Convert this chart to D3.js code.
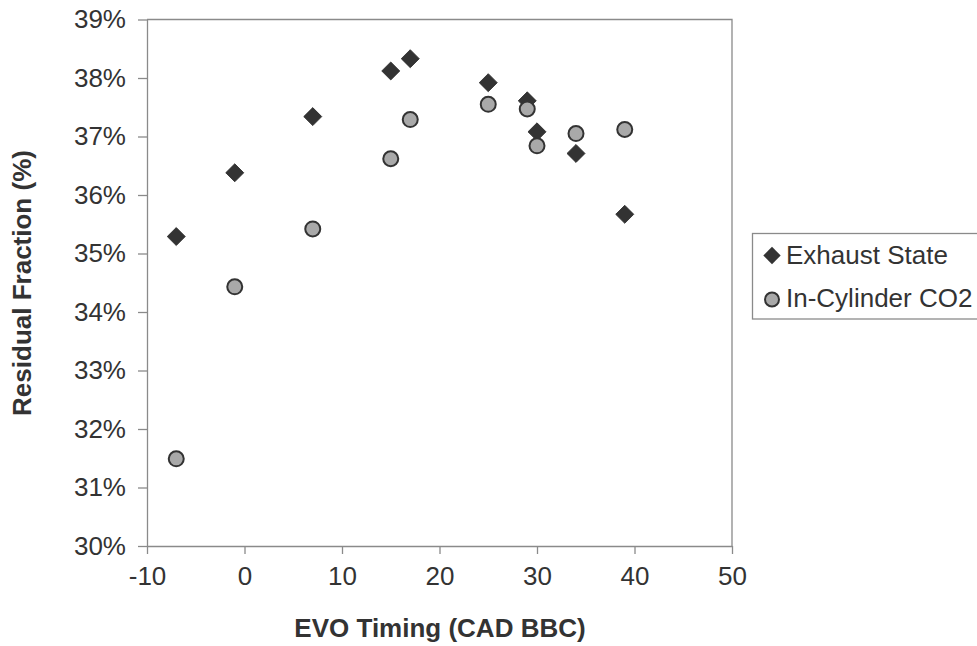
<!DOCTYPE html>
<html lang="en">
	<head>
		<meta charset="utf-8">
		<title>Residual Fraction vs EVO Timing</title>
		<script type="text/javascript" src="https://d3js.org/d3.v7.min.js"></script>
		<style type="text/css">
			body { margin: 0; background: #fff; }
			text { font-family: "Liberation Sans", Arial, Helvetica, sans-serif; fill: #333; }
			.axis path, .axis line { stroke: #8a8a8a; stroke-width: 1.3; }
			.axis text { font-size: 26px; fill: #333; }
		</style>
	</head>
	<body>
		<script type="text/javascript">

			// EVO timing (CAD BBC) for each test point
			var evoTiming = [-7, -1, 7, 15, 17, 25, 29, 30, 34, 39];
			// residual fraction (%) by method
			var exhaustState = [35.29, 36.38, 37.34, 38.12, 38.33, 37.92, 37.61, 37.08, 36.71, 35.67];
			var inCylinderCO2 = [31.49, 34.43, 35.42, 36.62, 37.29, 37.55, 37.47, 36.84, 37.05, 37.12];
			var seriesNames = ["Exhaust State", "In-Cylinder CO2"];
			var xTicks = [-10, 0, 10, 20, 30, 40, 50];
			var yTicks = [30, 31, 32, 33, 34, 35, 36, 37, 38, 39];

			//Width and height
			var w = 977;
			var h = 646;

			var x = d3.scaleLinear().domain([-10, 50]).range([147, 732]);
			var y = d3.scaleLinear().domain([30, 39]).range([546, 19.5]);

			var svg = d3.select("body")
						.append("svg")
						.attr("width", w)
						.attr("height", h);

			//plot frame (top and right edges)
			svg.append("path")
				.attr("d", "M" + x(-10) + "," + y(39) + "H" + x(50) + "V" + y(30))
				.attr("fill", "none")
				.attr("stroke", "#8a8a8a")
				.attr("stroke-width", 1.3);

			var xAxis = svg.append("g")
				.attr("class", "axis")
				.attr("transform", "translate(0," + y(30) + ")")
				.call(d3.axisBottom(x).tickValues(xTicks).tickSize(8).tickSizeOuter(0).tickPadding(13)
					.tickFormat(function(d) { return String(d); }));

			var yAxis = svg.append("g")
				.attr("class", "axis")
				.attr("transform", "translate(" + x(-10) + ",0)")
				.call(d3.axisLeft(y).tickValues(yTicks).tickSize(9).tickSizeOuter(0).tickPadding(12)
					.tickFormat(function(d) { return d + "%"; }));

			//axis titles
			svg.append("text")
				.attr("x", 440)
				.attr("y", 637)
				.attr("text-anchor", "middle")
				.style("font-size", "26px")
				.style("font-weight", "bold")
				.text("EVO Timing (CAD BBC)");

			svg.append("text")
				.attr("transform", "translate(31,283) rotate(-90)")
				.attr("text-anchor", "middle")
				.style("font-size", "26px")
				.style("font-weight", "bold")
				.text("Residual Fraction (%)");

			var diamond = d3.symbol().type(d3.symbolSquare).size(162);

			//exhaust state diamonds
			svg.append("g").selectAll("path")
				.data(evoTiming)
				.enter()
				.append("path")
				.attr("d", diamond)
				.attr("transform", function(d, i) {
					return "translate(" + x(d) + "," + y(exhaustState[i]) + ") rotate(45)";
				})
				.attr("fill", "#333")
				.attr("stroke", "#2a2a2a")
				.attr("stroke-width", 0.8);

			//in-cylinder CO2 circles
			svg.append("g").selectAll("circle")
				.data(evoTiming)
				.enter()
				.append("circle")
				.attr("cx", function(d) { return x(d); })
				.attr("cy", function(d, i) { return y(inCylinderCO2[i]); })
				.attr("r", 7.5)
				.attr("fill", "#a9a9a9")
				.attr("stroke", "#333")
				.attr("stroke-width", 2);

			//legend
			var legend = svg.append("g");
			legend.append("rect")
				.attr("x", 752.5)
				.attr("y", 233.5)
				.attr("width", 240)
				.attr("height", 85.5)
				.attr("fill", "#fff")
				.attr("stroke", "#8a8a8a")
				.attr("stroke-width", 1.3);

			legend.append("path")
				.attr("d", d3.symbol().type(d3.symbolSquare).size(150))
				.attr("transform", "translate(772,255.5) rotate(45)")
				.attr("fill", "#333");
			legend.append("circle")
				.attr("cx", 772)
				.attr("cy", 299.5)
				.attr("r", 7)
				.attr("fill", "#a9a9a9")
				.attr("stroke", "#333")
				.attr("stroke-width", 2);

			legend.selectAll("text.lbl")
				.data(seriesNames)
				.enter()
				.append("text")
				.attr("class", "lbl")
				.attr("x", 786)
				.attr("y", function(d, i) { return 263.5 + i * 43.5; })
				.style("font-size", "26px")
				.text(function(d) { return d; });

		</script>
	</body>
</html>
